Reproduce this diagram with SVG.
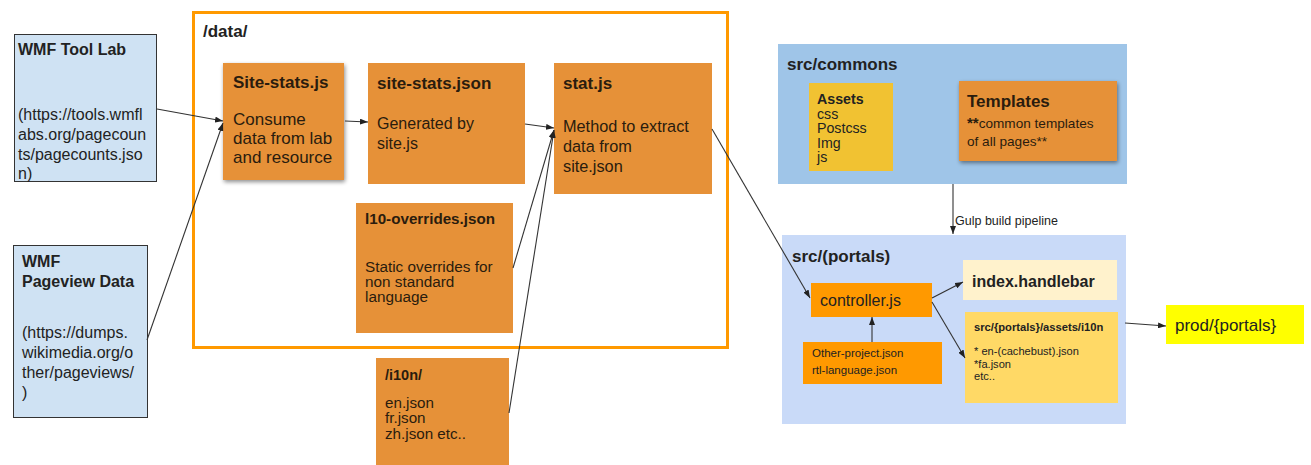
<svg xmlns="http://www.w3.org/2000/svg" width="1311" height="465" viewBox="0 0 1311 465">
<style>
text{font-family:"Liberation Sans",Arial,sans-serif;fill:#222}
.b{font-weight:bold}
.o{fill:#e69138}
.ot{fill:#2a1c0e}
.ln{stroke:#333;stroke-width:1.1;fill:none;marker-end:url(#ah)}
</style>
<defs>
<marker id="ah" markerUnits="userSpaceOnUse" markerWidth="8" markerHeight="6" refX="8" refY="3" orient="auto">
<path d="M0,0 L8,3 L0,6 z" fill="#222"/>
</marker>
<filter id="sh" x="-10%" y="-10%" width="125%" height="130%">
<feGaussianBlur in="SourceAlpha" stdDeviation="2"/>
<feOffset dx="1" dy="2" result="b"/>
<feComponentTransfer><feFuncA type="linear" slope="0.45"/></feComponentTransfer>
<feMerge><feMergeNode/><feMergeNode in="SourceGraphic"/></feMerge>
</filter>
</defs>
<rect width="1311" height="465" fill="#fff"/>

<g id="wmf-tool-lab">
<rect x="14.5" y="34.5" width="142" height="147" fill="#cfe2f3" stroke="#333"/>
<text x="18" y="55" class="b" font-size="16">WMF Tool Lab</text>
<text font-size="16"><tspan x="18" y="120">(https://tools.wmfl</tspan><tspan x="18" y="140">abs.org/pagecoun</tspan><tspan x="18" y="160">ts/pagecounts.jso</tspan><tspan x="18" y="179">n)</tspan></text>
</g>

<g id="wmf-pageview">
<rect x="13.5" y="245.5" width="134" height="172" fill="#cfe2f3" stroke="#333"/>
<text class="b" font-size="16"><tspan x="22" y="267">WMF</tspan><tspan x="22" y="287">Pageview Data</tspan></text>
<text font-size="16"><tspan x="22" y="338">(https://dumps.</tspan><tspan x="22" y="358">wikimedia.org/o</tspan><tspan x="22" y="378">ther/pageviews/</tspan><tspan x="22" y="398">)</tspan></text>
</g>

<g id="data">
<rect x="193.5" y="12.5" width="534" height="335" fill="none" stroke="#ff9900" stroke-width="3"/>
<text x="203" y="37" class="b" font-size="17">/data/</text>
</g>

<g id="site-stats-js">
<rect x="223" y="63" width="121" height="117" class="o" filter="url(#sh)"/>
<text x="233" y="88" class="b ot" font-size="17">Site-stats.js</text>
<text class="ot" font-size="17"><tspan x="233" y="125">Consume</tspan><tspan x="233" y="144">data from lab</tspan><tspan x="233" y="163">and resource</tspan></text>
</g>

<g id="site-stats-json">
<rect x="368" y="63" width="157" height="121" class="o"/>
<text x="377" y="89" class="b ot" font-size="17">site-stats.json</text>
<text class="ot" font-size="16"><tspan x="377" y="129">Generated by</tspan><tspan x="377" y="149">site.js</tspan></text>
</g>

<g id="stat-js">
<rect x="554" y="63" width="158" height="131" class="o"/>
<text x="563" y="89" class="b ot" font-size="17">stat.js</text>
<text class="ot" font-size="16.3"><tspan x="563" y="132">Method to extract</tspan><tspan x="563" y="152">data from</tspan><tspan x="563" y="172">site.json</tspan></text>
</g>

<g id="l10-overrides">
<rect x="356" y="203" width="157" height="130" class="o"/>
<text x="365" y="224" class="b ot" font-size="15.2">l10-overrides.json</text>
<text class="ot" font-size="15.3"><tspan x="365" y="272">Static overrides for</tspan><tspan x="365" y="287">non standard</tspan><tspan x="365" y="302">language</tspan></text>
</g>

<g id="i10n">
<rect x="376" y="358" width="133" height="107" class="o"/>
<text x="385" y="380" class="b ot" font-size="14.5">/i10n/</text>
<text class="ot" font-size="15.2"><tspan x="385" y="408">en.json</tspan><tspan x="385" y="423">fr.json</tspan><tspan x="385" y="439">zh.json etc..</tspan></text>
</g>

<g id="src-commons">
<rect x="778" y="44" width="349" height="140" fill="#9fc5e8"/>
<text x="787" y="70" class="b" font-size="17">src/commons</text>
</g>

<g id="assets">
<rect x="809" y="83" width="84" height="88" fill="#f1c232"/>
<text x="817" y="104" class="b" font-size="14.2">Assets</text>
<text font-size="14.2"><tspan x="817" y="118.5">css</tspan><tspan x="817" y="133">Postcss</tspan><tspan x="817" y="147.5">Img</tspan><tspan x="817" y="162">js</tspan></text>
</g>

<g id="templates">
<rect x="959" y="81" width="158" height="80" class="o" filter="url(#sh)"/>
<text x="967" y="107" class="b ot" font-size="17">Templates</text>
<text class="ot" font-size="13.6"><tspan x="967" y="128"><tspan class="b" font-size="15">**</tspan>common templates</tspan><tspan x="967" y="146">of all pages**</tspan></text>
</g>

<g id="src-portals">
<rect x="782" y="235" width="344" height="189" fill="#c9daf8"/>
<text x="792" y="262" class="b" font-size="17">src/(portals)</text>
</g>

<g id="controller-js">
<rect x="811" y="283" width="121" height="34" fill="#ff9900"/>
<text x="820" y="306" font-size="16">controller.js</text>
</g>

<g id="other-project">
<rect x="803" y="342" width="139" height="42" fill="#ff9900"/>
<text font-size="11.5"><tspan x="812" y="357">Other-project.json</tspan><tspan x="812" y="374">rtl-language.json</tspan></text>
</g>

<g id="index-handlebar">
<rect x="963" y="260" width="154" height="40" fill="#fff2cc"/>
<text x="972" y="287" class="b" font-size="16">index.handlebar</text>
</g>

<g id="assets-i10n">
<rect x="965" y="312" width="153" height="91" fill="#ffd966"/>
<text x="974" y="331" class="b" font-size="11.2">src/{portals}/assets/i10n</text>
<text font-size="11.1"><tspan x="974" y="355">* en-(cachebust).json</tspan><tspan x="974" y="367.5">*fa.json</tspan><tspan x="974" y="380">etc..</tspan></text>
</g>

<g id="prod">
<rect x="1166" y="305" width="138" height="39" fill="#ffff00"/>
<text x="1175" y="331" font-size="17">prod/{portals}</text>
</g>

<g id="connectors">
<line class="ln" x1="157" y1="109" x2="223" y2="121"/>
<line class="ln" x1="147" y1="340" x2="223" y2="123"/>
<line class="ln" x1="345" y1="121" x2="368" y2="122"/>
<line class="ln" x1="525" y1="124" x2="554" y2="128"/>
<line class="ln" x1="513" y1="268" x2="554" y2="130"/>
<line class="ln" x1="509" y1="413" x2="554" y2="130"/>
<line class="ln" x1="712" y1="129" x2="810" y2="298"/>
<line class="ln" x1="953" y1="184" x2="953" y2="234"/>
<text x="955" y="225" font-size="12.5">Gulp build pipeline</text>
<line class="ln" x1="932" y1="298" x2="963" y2="282"/>
<line class="ln" x1="932" y1="302" x2="965" y2="358"/>
<line class="ln" x1="872" y1="342" x2="872" y2="317"/>
<line class="ln" x1="1125" y1="323" x2="1166" y2="326"/>
</g>
</svg>
